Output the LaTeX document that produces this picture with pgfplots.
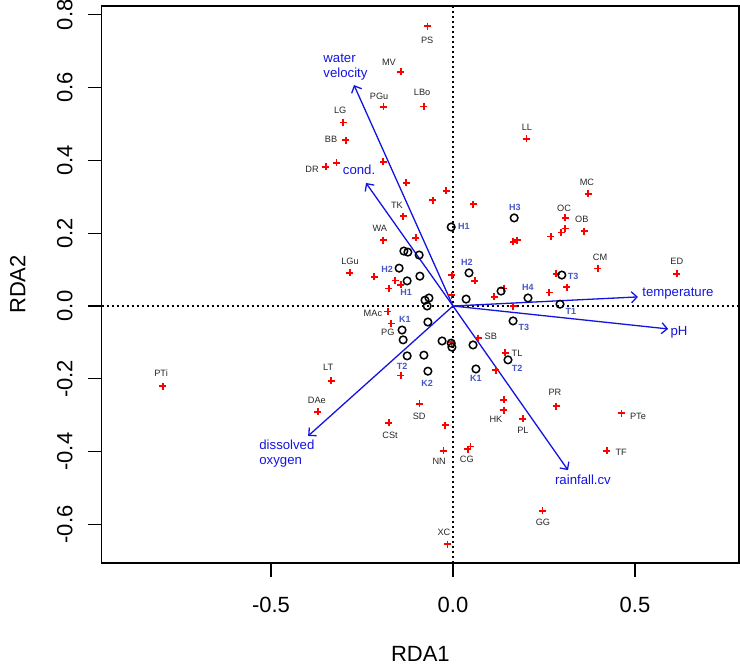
\documentclass[border=0pt]{standalone}
\usepackage{fontspec}
\setmainfont{Liberation Sans}
\usepackage{pgfplots}
\pgfplotsset{compat=1.18}
\usetikzlibrary{arrows.meta}
\definecolor{arrowblue}{RGB}{20,20,225}
\definecolor{siteblue}{RGB}{70,85,200}
\tikzset{
  lab/.style={font=\fontsize{4.6}{5}\selectfont, text=black!85, inner sep=0pt},
  site/.style={font=\fontsize{4.5}{5}\selectfont\bfseries, text=siteblue, inner sep=0pt},
  arr/.style={font=\fontsize{6.6}{7.5}\selectfont, text=arrowblue, inner sep=0pt},
}
\begin{document}
\begin{tikzpicture}[x=1pt,y=1pt]
\useasboundingbox (0,0) rectangle (370,333);
\begin{axis}[
  at={(50.85pt,51.5pt)}, anchor=south west,
  scale only axis, width=318.65pt, height=278.5pt,
  xmin=-0.9651, xmax=0.7857, ymin=-0.7060, ymax=0.8242,
  axis line style={line width=0.75pt, black},
  xtick={-0.5,0,0.5}, xticklabels={-0.5,0.0,0.5},
  ytick={-0.6,-0.4,-0.2,0,0.2,0.4,0.6,0.8},
  yticklabels={-0.6,-0.4,-0.2,0.0,0.2,0.4,0.6,0.8},
  tick align=outside, major tick length=7pt,
  xtick pos=bottom, ytick pos=left,
  tick style={black, line width=0.6pt},
  ticklabel style={font=\fontsize{11}{13}\selectfont},
  xticklabel style={anchor=center, yshift=-14pt},
  yticklabel style={xshift=-11.5pt, rotate=90, anchor=center},
  xlabel={RDA1}, ylabel={RDA2},
  label style={font=\fontsize{11}{13}\selectfont},
  x label style={at={([yshift=-45.5pt]axis description cs:0.5,0)}, anchor=center},
  y label style={at={([xshift=-42pt]axis description cs:0,0.5)}, anchor=center},
  clip=false,
]
% zero lines
\addplot[black, line width=0.6pt, dash pattern=on 1pt off 1.5pt] coordinates {(0,-0.7060) (0,0.8242)};
\addplot[black, line width=0.6pt, dash pattern=on 1pt off 1.5pt] coordinates {(-0.9651,0) (0.7857,0)};

% red pluses
\addplot[only marks, red, mark=+, mark size=1.75pt, mark options={draw=red, line width=0.65pt, solid}] table {
x y
-0.071 0.769
-0.143 0.643
-0.080 0.549
-0.190 0.547
-0.302 0.505
-0.294 0.456
-0.349 0.382
-0.321 0.393
-0.192 0.396
-0.129 0.338
0.201 0.459
0.371 0.308
-0.019 0.316
-0.055 0.291
0.055 0.280
-0.137 0.247
-0.192 0.181
-0.102 0.187
0.308 0.242
0.360 0.206
0.308 0.212
0.297 0.201
0.269 0.190
0.176 0.181
0.165 0.176
0.398 0.104
0.615 0.088
-0.283 0.091
-0.217 0.080
-0.159 0.071
-0.143 0.058
-0.176 0.049
-0.003 0.085
0.060 0.069
0.283 0.088
0.313 0.052
0.140 0.049
0.264 0.038
0.113 0.025
-0.005 0.030
0.165 0.000
-0.179 -0.016
-0.170 -0.049
0.069 -0.088
-0.005 -0.099
0.143 -0.129
0.118 -0.176
-0.143 -0.190
-0.335 -0.206
-0.797 -0.220
-0.371 -0.291
-0.093 -0.269
-0.176 -0.321
0.140 -0.258
0.140 -0.286
0.192 -0.310
0.283 -0.275
0.462 -0.294
-0.022 -0.327
-0.027 -0.398
0.041 -0.393
0.049 -0.385
0.423 -0.398
0.245 -0.563
-0.016 -0.654
};

% black circles
\addplot[only marks, black, mark=o, mark size=1.9pt, mark options={draw=black, line width=0.75pt, solid}] table {
x y
-0.005 0.217
0.168 0.242
-0.135 0.151
-0.124 0.148
-0.093 0.140
-0.148 0.104
0.044 0.091
-0.091 0.082
-0.126 0.069
0.299 0.085
0.132 0.041
0.206 0.022
0.036 0.019
-0.077 0.016
-0.066 0.022
-0.071 0.000
0.294 0.005
0.165 -0.041
-0.069 -0.044
-0.140 -0.066
-0.137 -0.093
-0.030 -0.096
-0.005 -0.102
-0.003 -0.113
0.055 -0.107
-0.126 -0.137
-0.080 -0.135
0.151 -0.148
-0.069 -0.179
0.063 -0.173
};

% environmental arrows
\addplot[arrowblue, line width=0.65pt, -{Straight Barb[length=2.8pt,width=5.5pt]}] coordinates {(0,0) (-0.272,0.607)};
\addplot[arrowblue, line width=0.65pt, -{Straight Barb[length=2.8pt,width=5.5pt]}] coordinates {(0,0) (-0.239,0.338)};
\addplot[arrowblue, line width=0.65pt, -{Straight Barb[length=2.8pt,width=5.5pt]}] coordinates {(0,0) (0.508,0.025)};
\addplot[arrowblue, line width=0.65pt, -{Straight Barb[length=2.8pt,width=5.5pt]}] coordinates {(0,0) (0.591,-0.063)};
\addplot[arrowblue, line width=0.65pt, -{Straight Barb[length=2.8pt,width=5.5pt]}] coordinates {(0,0) (0.316,-0.451)};
\addplot[arrowblue, line width=0.65pt, -{Straight Barb[length=2.8pt,width=5.5pt]}] coordinates {(0,0) (-0.398,-0.357)};

% arrow labels
\node[arr, anchor=west, align=left] at (axis cs:-0.357,0.655) {water\\velocity};
\node[arr] at (axis cs:-0.258,0.374) {cond.};
\node[arr, anchor=west] at (axis cs:0.519,0.033) {temperature};
\node[arr] at (axis cs:0.621,-0.071) {pH};
\node[arr] at (axis cs:0.357,-0.478) {rainfall.cv};
\node[arr, anchor=west, align=left] at (axis cs:-0.533,-0.405) {dissolved\\oxygen};

% point labels
\node[lab] at (axis cs:-0.071,0.731) {PS};
\node[lab] at (axis cs:-0.176,0.670) {MV};
\node[lab] at (axis cs:-0.085,0.588) {LBo};
\node[lab] at (axis cs:-0.203,0.577) {PGu};
\node[lab] at (axis cs:-0.310,0.538) {LG};
\node[lab] at (axis cs:-0.335,0.459) {BB};
\node[lab] at (axis cs:-0.387,0.376) {DR};
\node[lab] at (axis cs:0.203,0.492) {LL};
\node[lab] at (axis cs:0.368,0.341) {MC};
\node[lab] at (axis cs:-0.154,0.277) {TK};
\node[lab] at (axis cs:-0.201,0.214) {WA};
\node[lab] at (axis cs:0.305,0.269) {OC};
\node[lab] at (axis cs:0.354,0.239) {OB};
\node[lab] at (axis cs:0.404,0.135) {CM};
\node[lab] at (axis cs:0.615,0.124) {ED};
\node[lab] at (axis cs:-0.283,0.124) {LGu};
\node[lab] at (axis cs:-0.220,-0.019) {MAc};
\node[lab] at (axis cs:-0.179,-0.071) {PG};
\node[lab] at (axis cs:0.104,-0.082) {SB};
\node[lab] at (axis cs:0.176,-0.129) {TL};
\node[lab] at (axis cs:-0.343,-0.168) {LT};
\node[lab] at (axis cs:-0.802,-0.184) {PTi};
\node[lab] at (axis cs:-0.374,-0.258) {DAe};
\node[lab] at (axis cs:-0.093,-0.302) {SD};
\node[lab] at (axis cs:-0.173,-0.354) {CSt};
\node[lab] at (axis cs:0.118,-0.310) {HK};
\node[lab] at (axis cs:0.192,-0.341) {PL};
\node[lab] at (axis cs:0.280,-0.236) {PR};
\node[lab] at (axis cs:0.508,-0.302) {PTe};
\node[lab] at (axis cs:-0.038,-0.426) {NN};
\node[lab] at (axis cs:0.038,-0.420) {CG};
\node[lab] at (axis cs:0.462,-0.401) {TF};
\node[lab] at (axis cs:0.247,-0.593) {GG};
\node[lab] at (axis cs:-0.025,-0.621) {XC};

% site labels
\node[site] at (axis cs:0.030,0.220) {H1};
\node[site] at (axis cs:0.170,0.272) {H3};
\node[site] at (axis cs:-0.181,0.102) {H2};
\node[site] at (axis cs:0.038,0.121) {H2};
\node[site] at (axis cs:-0.129,0.038) {H1};
\node[site] at (axis cs:0.330,0.080) {T3};
\node[site] at (axis cs:0.206,0.052) {H4};
\node[site] at (axis cs:0.324,-0.016) {T1};
\node[site] at (axis cs:0.195,-0.058) {T3};
\node[site] at (axis cs:-0.132,-0.038) {K1};
\node[site] at (axis cs:0.176,-0.170) {T2};
\node[site] at (axis cs:-0.140,-0.165) {T2};
\node[site] at (axis cs:-0.071,-0.212) {K2};
\node[site] at (axis cs:0.063,-0.198) {K1};
\end{axis}
\end{tikzpicture}
\end{document}
